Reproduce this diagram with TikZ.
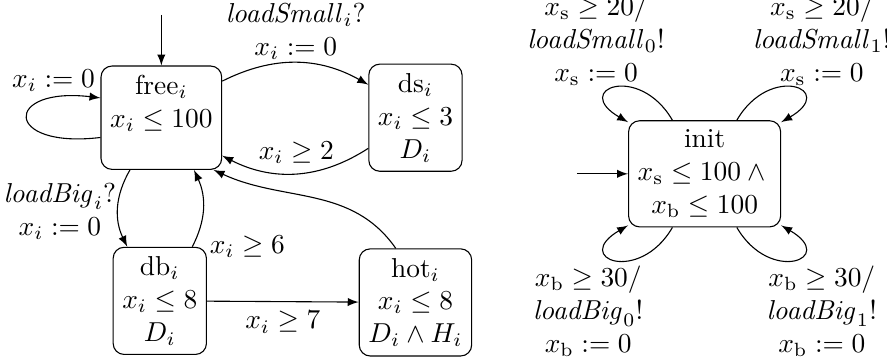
\documentclass[tikz,border=0pt]{standalone}
\begin{document}
\begin{tikzpicture}[
state/.style={
draw,
rounded corners,
align=center
},
lbl/.style={
align=center
}
]

\useasboundingbox (0,0) rectangle (11.38,4.64);

\node[state] (free) at (2.07,3.13)
{free$_i$\\$x_i \leq 100$\\\mbox{}};

\node[state] (ds) at (5.33,3.13)
{ds$_i$\\$x_i \leq 3$\\$D_i$};

\node[state] (db) at (2.05,0.78)
{db$_i$\\$x_i \leq 8$\\$D_i$};

\node[state] (hot) at (5.33,0.76)
{hot$_i$\\$x_i \leq 8$\\$D_i \wedge H_i$};

\node[state] (init) at (9.04,2.41)
{init\\$x_\mathrm{s} \leq 100 \wedge{}$\\$x_\mathrm{b} \leq 100$};

\coordinate (freestart) at (2.07,4.45);
\coordinate (initstart) at (7.40,2.41);

\draw[-latex] (freestart) -- (free);
\draw[-latex] (initstart) -- (init);

\draw[-latex] (free.198) .. controls +(-1.25,-0.15) and +(-1.25,0.15) .. (free.162)
node[lbl, above, pos=0.75, xshift=0.1cm] (lreset) {$x_i := 0$};
\draw[-latex] (free.31) to[bend left=28]
node[lbl, above, yshift=-0.08cm] (lsmall) {$\mathit{loadSmall}_i?$\\$x_i := 0$} (ds.145);
\draw[-latex] (ds.213) to[bend left=30]
node[lbl, above] (lds) {$x_i \geq 2$} (free.-32);
\draw[-latex] (free.239) to[bend right=28]
node[lbl, left, inner sep=0.5pt, yshift=-0.05cm] (lbig) {$\mathit{loadBig}_i?$\\$x_i := 0$} (db.121);
\draw[-latex] (db.59) to[bend right=26]
node[lbl, right, pos=0, xshift=0.1cm] (ldb) {$x_i \geq 6$} (free.-58);
\draw[-latex] (db) --
node[lbl, below] (lhot) {$x_i \geq 7$} (hot);
\draw[-latex] (hot.110) to[out=125, in=-25] (free.-45);

\draw[-latex] (init.121) .. controls +(120:0.85) and +(150:0.85) .. (init.146)
node[lbl, above, xshift=-0.26cm, yshift=-0.1cm, pos=0.5] (ls0)
{$x_\mathrm{s} \geq 20/$\\$\mathit{loadSmall}_0!$\\$x_\mathrm{s} := 0$};
\draw[-latex] (init.59) .. controls +(60:0.85) and +(30:0.85) .. (init.34)
node[lbl, above, xshift=0.37cm, yshift=-0.1cm, pos=0.5] (ls1)
{$x_\mathrm{s} \geq 20/$\\$\mathit{loadSmall}_1!$\\$x_\mathrm{s} := 0$};
\draw[-latex] (init.239) .. controls +(240:0.85) and +(210:0.85) .. (init.214)
node[lbl, below, xshift=-0.36cm, yshift=0.05cm, pos=0.5] (lb0)
{$x_\mathrm{b} \geq 30/$\\$\mathit{loadBig}_0!$\\$x_\mathrm{b} := 0$};
\draw[-latex] (init.-59) .. controls +(-60:0.85) and +(-30:0.85) .. (init.-34)
node[lbl, below, xshift=0.37cm, yshift=0.05cm, pos=0.5] (lb1)
{$x_\mathrm{b} \geq 30/$\\$\mathit{loadBig}_1!$\\$x_\mathrm{b} := 0$};

\end{tikzpicture}
\end{document}
